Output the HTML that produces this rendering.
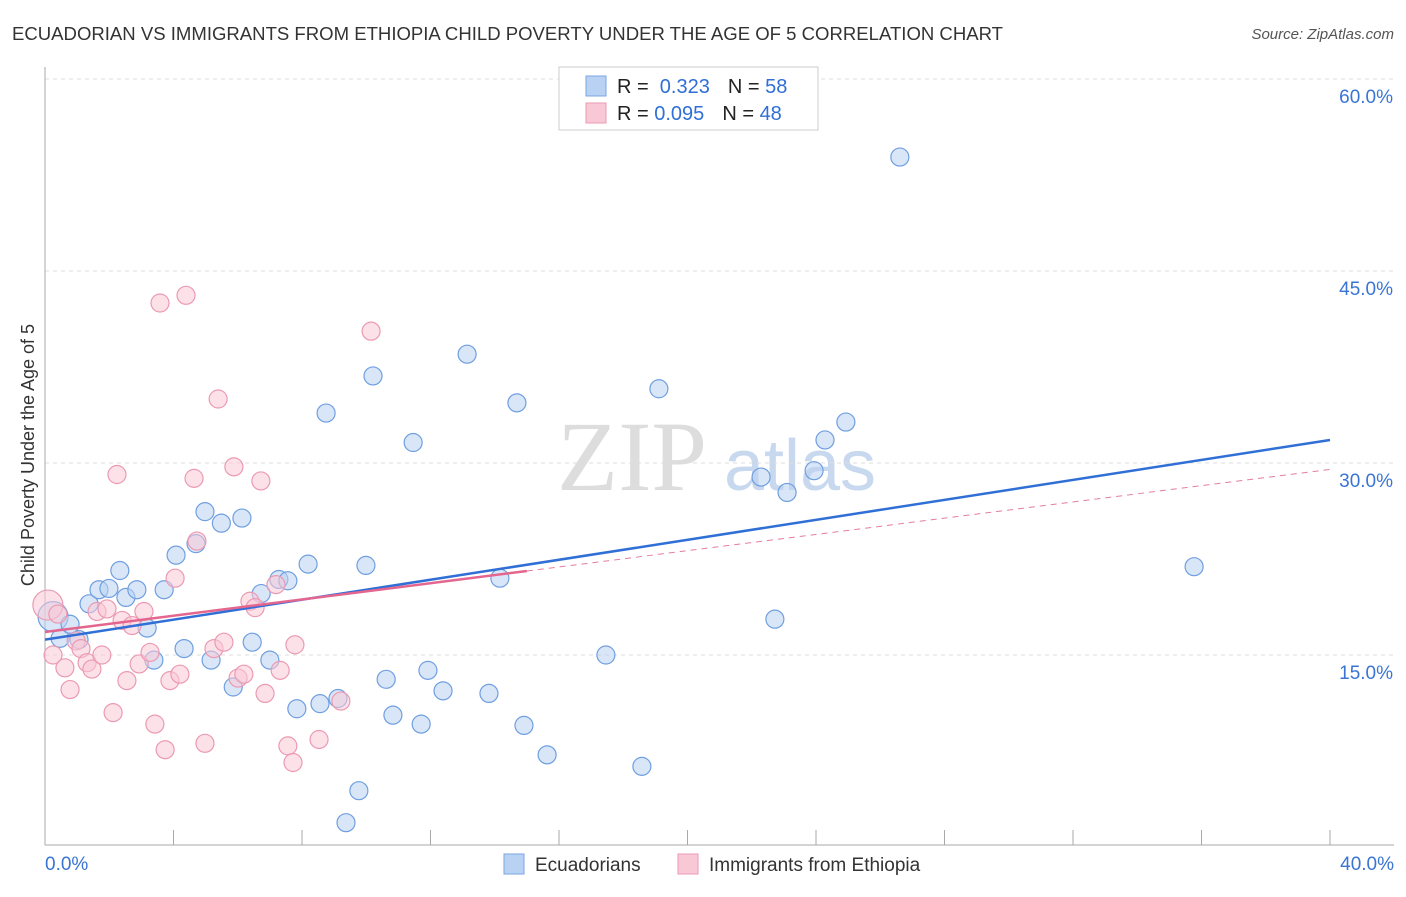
<!DOCTYPE html>
<html><head><meta charset="utf-8"><style>
body{margin:0;background:#fff;font-family:"Liberation Sans",sans-serif}
svg text{font-family:"Liberation Sans",sans-serif}
</style></head><body>
<svg id="c" width="1406" height="892">
<text x="12" y="40" font-size="18" fill="#333" textLength="991" lengthAdjust="spacingAndGlyphs">ECUADORIAN VS IMMIGRANTS FROM ETHIOPIA CHILD POVERTY UNDER THE AGE OF 5 CORRELATION CHART</text>
<text x="1394" y="39" font-size="15" fill="#555" text-anchor="end" font-style="italic">Source: ZipAtlas.com</text>
<text x="632" y="490" font-size="100" fill="#ddd" font-family="Liberation Serif" text-anchor="middle" style="font-family:'Liberation Serif',serif">ZIP</text>
<text x="800" y="490" font-size="72" fill="#c8d8ee" text-anchor="middle">atlas</text>
<g id="grid"></g>
<g id="pts"></g>
<text transform="translate(34,455) rotate(-90)" font-size="18" fill="#333" text-anchor="middle">Child Poverty Under the Age of 5</text>
<g>
<rect x="559" y="67" width="259" height="63" fill="#fff" stroke="#ccc"/>
<rect x="586" y="76" width="20" height="20" fill="#b9d2f3" stroke="#7aa5e0"/>
<rect x="586" y="103" width="20" height="20" fill="#f9c8d6" stroke="#eb9ab3"/>
<text x="617" y="93" font-size="20" fill="#222">R = <tspan fill="#2f6fd6">&#160;0.323</tspan><tspan dx="18" fill="#222">N = </tspan><tspan fill="#2f6fd6">58</tspan></text>
<text x="617" y="120" font-size="20" fill="#222">R = <tspan fill="#2f6fd6">0.095</tspan><tspan dx="18" fill="#222">N = </tspan><tspan fill="#2f6fd6">48</tspan></text>
</g>
<g>
<rect x="504" y="854" width="20" height="20" fill="#b9d2f3" stroke="#7aa5e0"/>
<text x="535" y="871" font-size="19" fill="#333">Ecuadorians</text>
<rect x="678" y="854" width="20" height="20" fill="#f9c8d6" stroke="#eb9ab3"/>
<text x="709" y="871" font-size="19" fill="#333">Immigrants from Ethiopia</text>
</g>
</svg>
<script>
const yTicks=[15,30,45,60];
const xTickLabels=["0.0%","40.0%"];
const blueX=[0.25,0.47,0.78,1.06,1.37,1.68,1.99,2.33,2.52,2.86,3.18,3.39,3.71,4.08,4.33,4.70,4.98,5.17,5.49,5.86,6.13,6.45,6.73,7.00,7.28,7.56,7.84,8.19,8.56,8.75,9.12,9.37,9.77,9.99,10.21,10.62,10.83,11.46,11.71,11.92,12.39,13.14,13.82,14.16,14.69,14.91,15.63,17.46,18.58,19.11,22.29,22.72,23.10,23.94,24.28,24.93,26.61,35.77];
const blueY=[18.0,16.3,17.4,16.2,19.0,20.1,20.2,21.6,19.5,20.1,17.1,14.6,20.1,22.8,15.5,23.7,26.2,14.6,25.3,12.5,25.7,16.0,19.8,14.6,20.9,20.8,10.8,22.1,11.2,33.9,11.6,1.9,4.4,22.0,36.8,13.1,10.3,31.6,9.6,13.8,12.2,38.5,12.0,21.0,34.7,9.5,7.2,15.0,6.3,35.8,28.9,17.8,27.7,29.4,31.8,33.2,53.9,21.9];
const pinkX=[0.09,0.25,0.40,0.62,0.78,0.97,1.12,1.31,1.46,1.62,1.77,1.93,2.12,2.24,2.40,2.55,2.71,2.93,3.08,3.27,3.42,3.58,3.74,3.89,4.05,4.20,4.39,4.64,4.73,4.98,5.26,5.39,5.57,5.88,6.01,6.19,6.38,6.54,6.72,6.85,7.19,7.32,7.56,7.72,7.78,8.53,9.21,10.15];
const pinkY=[18.9,15.0,18.2,14.0,12.3,16.1,15.5,14.4,13.9,18.4,15.0,18.6,10.5,29.1,17.7,13.0,17.3,14.3,18.4,15.2,9.6,42.5,7.6,13.0,21.0,13.5,43.1,28.8,23.9,8.1,15.5,35.0,16.0,29.7,13.2,13.5,19.2,18.7,28.6,12.0,20.5,13.8,7.9,6.6,15.8,8.4,11.4,40.3];
const blueLine=[16.2,31.8];
const pinkLine=[16.8,29.5];
const pinkSolidEnd=15.0;
const NS="http://www.w3.org/2000/svg";
const X=v=>45+v/40*1285, Y=v=>847-v/15*192;
const g=document.getElementById('grid'), p=document.getElementById('pts');
function mk(tag,at,par){const e=document.createElementNS(NS,tag);for(const k in at)e.setAttribute(k,at[k]);par.appendChild(e);return e;}
yTicks.forEach(t=>{
 const l=mk('line',{x1:45,x2:1394,y1:Y(t),y2:Y(t),stroke:'#ddd','stroke-dasharray':'4,4'},g);
 
 
 const tx=mk('text',{x:1393,y:Y(t)+24,'font-size':19,fill:'#3a74d4','text-anchor':'end'},g);tx.textContent=t.toFixed(1)+'%';
 
 
});
const ax=mk('line',{x1:45,x2:1394,y1:845,y2:845,stroke:'#aaa'},g);


const ay=mk('line',{x1:45,x2:45,y1:67,y2:845,stroke:'#aaa'},g);


for(let i=0;i<=10;i++){const t=mk('line',{x1:X(i*4),x2:X(i*4),y1:830,y2:845,stroke:'#aaa'},g);
 
 }
[[0,'start',45],[1,'end',1394]].forEach(([i,a,x])=>{const t=mk('text',{x:x,y:870,'font-size':19,fill:'#3a74d4','text-anchor':a},g);t.textContent=xTickLabels[i];
 
 });
function dots(xs,ys,fill,stroke,name){xs.forEach((x,i)=>{const big=i===0;const c=mk('circle',{cx:X(x),cy:Y(ys[i]),r:big?15:9,fill:fill,'fill-opacity':0.55,stroke:stroke,'stroke-width':1.2},p);
 
 });}
dots(blueX,blueY,'#b9d2f3','#6f9fe0','ecuadorian-point');
dots(pinkX,pinkY,'#f9c8d6','#eb9ab3','ethiopia-point');
const pt=v=>pinkLine[0]+(pinkLine[1]-pinkLine[0])*v/40;
const pd=mk('line',{x1:X(pinkSolidEnd),y1:Y(pt(pinkSolidEnd)),x2:X(40),y2:Y(pinkLine[1]),stroke:'#e57ca0','stroke-dasharray':'6,5','stroke-width':1},p);


const bl=mk('line',{x1:X(0),y1:Y(blueLine[0]),x2:X(40),y2:Y(blueLine[1]),stroke:'#2f6fd6','stroke-width':2.5},p);


const pl=mk('line',{x1:X(0),y1:Y(pinkLine[0]),x2:X(pinkSolidEnd),y2:Y(pt(pinkSolidEnd)),stroke:'#e4668f','stroke-width':2.5},p);


</script>
</body></html>
